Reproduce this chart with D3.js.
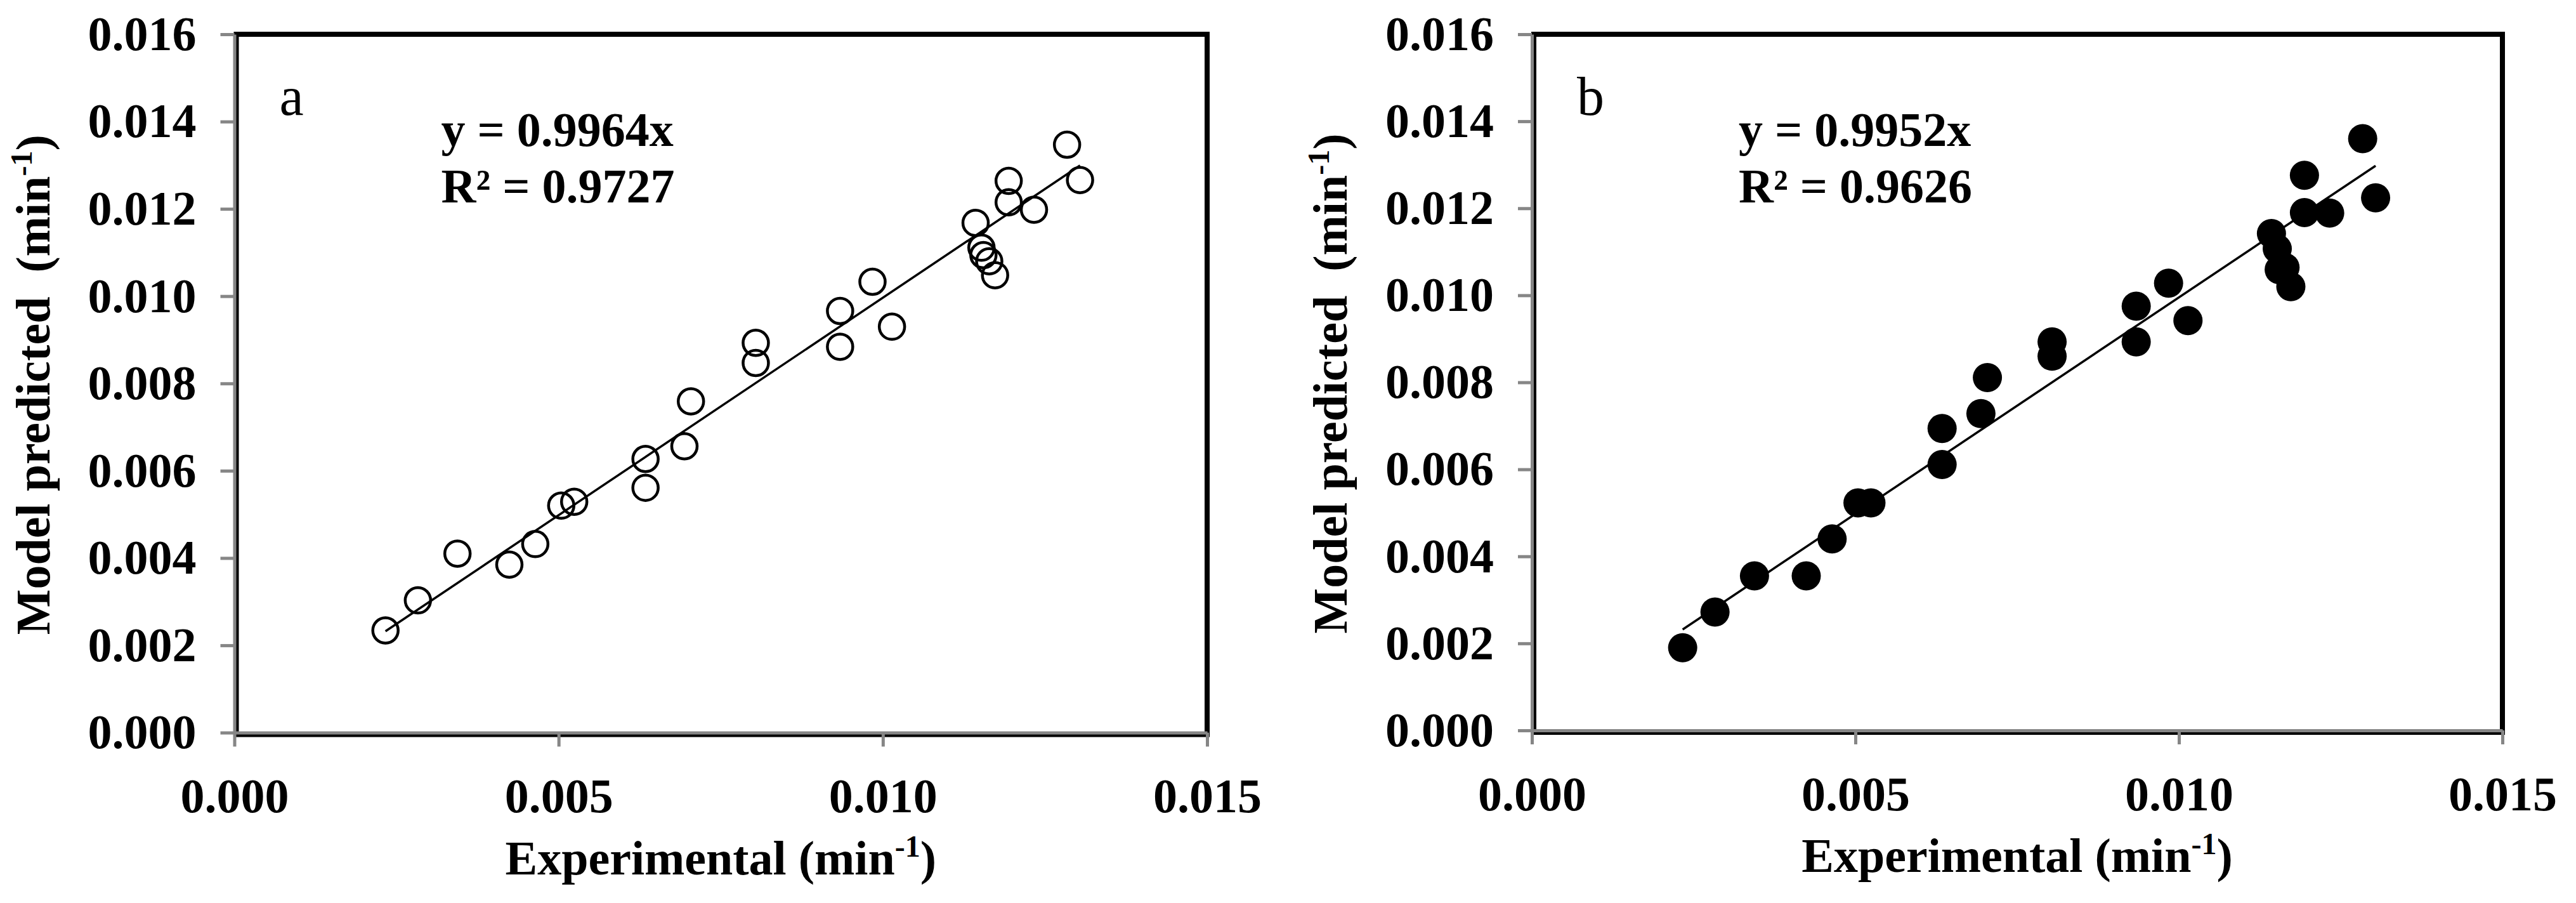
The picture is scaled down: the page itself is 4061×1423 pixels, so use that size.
<!DOCTYPE html>
<html>
<head>
<meta charset="utf-8">
<script src="https://cdn.jsdelivr.net/npm/d3@7"></script>
<style>
  body { margin: 0; background: #fff; }
  svg { display: block; }
  text { font-family: "Liberation Serif", "Times New Roman", serif; }
</style>
</head>
<body>
<svg width="4061" height="1423"></svg>
<script>
// values in units of 0.001 min^-1
let experimental = [2.33, 2.83, 3.44, 4.24, 4.64, 5.04, 5.24, 6.34, 6.34, 6.94, 7.04, 8.04, 8.04,
    9.34, 9.34, 9.84, 10.14, 11.43, 11.52, 11.55, 11.64, 11.73, 11.94, 11.94, 12.33, 12.84, 13.04];
let predictedA = [2.34, 3.03, 4.10, 3.85, 4.32, 5.20, 5.29, 6.27, 5.61, 6.56, 7.59, 8.93, 8.47,
    9.66, 8.84, 10.33, 9.30, 11.68, 11.11, 10.94, 10.80, 10.48, 12.64, 12.15, 11.98, 13.47, 12.66];
let predictedB = [1.90, 2.72, 3.55, 3.55, 4.40, 5.23, 5.23, 6.94, 6.11, 7.28, 8.11, 8.93, 8.60,
    9.75, 8.93, 10.28, 9.42, 11.42, 11.07, 10.59, 10.64, 10.20, 12.76, 11.90, 11.89, 13.60, 12.24];

let xTicks = [0, 0.005, 0.010, 0.015];
let yTicks = [0, 0.002, 0.004, 0.006, 0.008, 0.010, 0.012, 0.014, 0.016];
let slopes = [0.9964, 0.9952];
let r2Labels = ['0.9727', '0.9626'];
let panelLabels = ['a', 'b'];

let panelA = {left: 369.5, right: 1903, top: 54, bottom: 1154.5};
let panelB = {left: 2415, right: 3945, top: 54, bottom: 1151};

var svg = d3.select('svg');
svg.append('rect').attr('width', 4061).attr('height', 1423).attr('fill', '#fff');

drawPanel(panelA, predictedA, 0, false);
drawPanel(panelB, predictedB, 1, true);

function drawPanel(p, predicted, i, filled) {
    let g = svg.append('g');

    let x = d3.scaleLinear().domain([0, 0.015]).range([p.left, p.right]);
    let y = d3.scaleLinear().domain([0, 0.016]).range([p.bottom, p.top]);

    // plot area border
    g.append('rect')
        .attr('x', x(0) + 3)
        .attr('y', y(0.016))
        .attr('width', x(0.015) - x(0) - 3)
        .attr('height', y(0) - y(0.016) + 3)
        .attr('fill', 'none')
        .attr('stroke', 'black')
        .attr('stroke-width', 8);

    let fmt = d3.format('.3f');

    let yAxis = g.append('g')
        .attr('transform', `translate(${x(0)},0)`)
        .call(d3.axisLeft(y).tickValues(yTicks).tickFormat(fmt)
            .tickSizeInner(22).tickSizeOuter(0).tickPadding(38));
    let xAxis = g.append('g')
        .attr('transform', `translate(0,${y(0)})`)
        .call(d3.axisBottom(x).tickValues(xTicks).tickFormat(fmt)
            .tickSizeInner(22).tickSizeOuter(0).tickPadding(50));

    [yAxis, xAxis].forEach(function (a) {
        a.select('.domain').attr('stroke', '#868686').attr('stroke-width', 5);
        a.selectAll('.tick line').attr('stroke', '#868686').attr('stroke-width', 5);
        a.selectAll('.tick text')
            .attr('fill', 'black')
            .attr('font-size', 76)
            .attr('font-weight', 'bold')
            .attr('font-family', '"Liberation Serif", serif');
    });

    // trend line through origin
    let xs = experimental.map(d => d / 1000);
    let ext = d3.extent(xs);
    let line = d3.line().x(d => x(d[0])).y(d => y(d[1]));
    g.append('path')
        .attr('d', line(ext.map(v => [v, v * slopes[i]])))
        .attr('fill', 'none')
        .attr('stroke', 'black')
        .attr('stroke-width', 3.5);

    g.selectAll('circle.pt')
        .data(experimental.map((d, j) => [d / 1000, predicted[j] / 1000]))
        .enter()
        .append('circle')
        .attr('class', 'pt')
        .attr('cx', d => x(d[0]))
        .attr('cy', d => y(d[1]))
        .attr('r', filled ? 23 : 20)
        .attr('fill', filled ? 'black' : 'none')
        .attr('stroke', filled ? 'none' : 'black')
        .attr('stroke-width', 4.5);

    // panel letter
    g.append('text')
        .attr('x', p.left + 71)
        .attr('y', p.top + 127)
        .attr('font-size', 86)
        .text(panelLabels[i]);

    // equation
    let eq = g.append('text')
        .attr('font-size', 76)
        .attr('font-weight', 'bold');
    eq.append('tspan')
        .attr('x', p.left + 326)
        .attr('y', p.top + 176)
        .text(`y = ${slopes[i]}x`);
    eq.append('tspan')
        .attr('x', p.left + 326)
        .attr('y', p.top + 265)
        .text(`R\u00B2 = ${r2Labels[i]}`);

    // axis titles
    let cx = (p.left + p.right) / 2;
    let xt = g.append('text')
        .attr('x', cx)
        .attr('y', p.bottom + 223)
        .attr('text-anchor', 'middle')
        .attr('font-size', 76)
        .attr('font-weight', 'bold')
        .style('white-space', 'pre');
    xt.append('tspan').text('Experimental (min');
    xt.append('tspan').attr('font-size', 48).attr('dy', -28).text('-1');
    xt.append('tspan').attr('dy', 28).text(')');

    let cy = (p.top + p.bottom) / 2 + 2;
    let yt = g.append('text')
        .attr('transform', `translate(${p.left - 292},${cy}) rotate(-90)`)
        .attr('text-anchor', 'middle')
        .attr('font-size', 76)
        .attr('font-weight', 'bold')
        .style('white-space', 'pre');
    yt.append('tspan').text('Model predicted  (min');
    yt.append('tspan').attr('font-size', 48).attr('dy', -28).text('-1');
    yt.append('tspan').attr('dy', 28).text(')');
}
</script>
</body>
</html>
